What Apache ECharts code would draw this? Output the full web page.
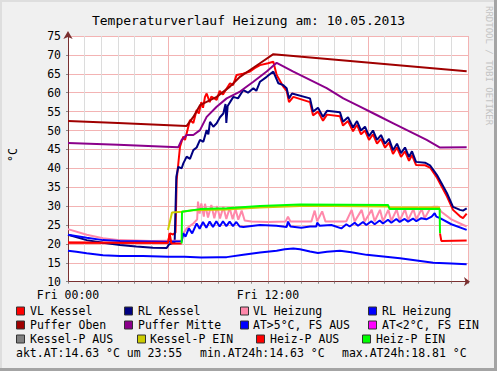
<!DOCTYPE html>
<html><head><meta charset="utf-8">
<script src="https://cdn.jsdelivr.net/npm/echarts@6/dist/echarts.min.js"></script>
<style>html,body{margin:0;padding:0;background:#f0f0f0}#c{width:497px;height:371px}</style>
</head><body><div id="c"></div>
<script>
// ---------- data ----------
const chartTitle = 'Temperaturverlauf Heizung am: 10.05.2013';
const yUnit = '°C';
const xTickLabels = {0: 'Fri 00:00', 12: 'Fri 12:00'};
const statsTexts = ['akt.AT:14.63 °C um 23:55', 'min.AT24h:14.63 °C', 'max.AT24h:18.81 °C'];

const vlKessel = [[0,20.4],[3,20.3],[6.0,20.3],[6.12,22.8],[6.3,22.5],[6.45,23.0],[6.52,36.9],[6.72,45.7],[6.92,48.4],[7.02,47.5],[7.32,52.8],[7.52,52.0],[7.72,55.4],[7.85,54.5],[8.0,57.5],[8.1,56.0],[8.22,58.9],[8.32,59.8],[8.5,57.5],[8.6,59.0],[8.92,58.1],[9.1,60.5],[9.3,59.5],[9.5,61.0],[9.72,62.5],[9.9,62.0],[10.12,64.7],[10.5,65.0],[10.92,65.6],[11.2,66.5],[11.52,67.3],[12.0,67.8],[12.32,68.2],[12.52,64.7],[12.92,61.6],[13.12,60.5],[13.26,57.5],[13.52,58.9],[14.52,57.5],[14.7,54.0],[15.0,55.0],[15.3,52.6],[15.54,54.2],[16.32,53.8],[16.5,51.3],[16.8,52.5],[17.1,49.8],[17.34,51.5],[17.58,49.0],[17.82,50.0],[18.06,47.5],[18.3,49.0],[18.54,46.5],[18.78,47.8],[19.02,45.5],[19.26,46.8],[19.5,43.8],[19.74,45.5],[19.98,43.0],[20.22,44.5],[20.46,42.0],[20.64,43.5],[20.88,40.9],[21.42,40.8],[21.72,40.2],[22.14,37.5],[22.74,32.5],[23.1,29.0],[23.52,27.3],[23.7,26.8],[23.92,28.0]];

const rlKessel = [[0,22.4],[1.12,21.0],[2.1,20.3],[3.12,19.7],[4.1,19.3],[5.1,19.0],[5.92,18.9],[6.05,19.8],[6.4,20.5],[6.5,37.8],[6.62,40.4],[6.82,40.0],[6.92,41.3],[7.12,43.1],[7.32,42.5],[7.52,44.8],[7.72,45.5],[7.92,47.5],[8.12,47.0],[8.32,50.1],[8.42,49.0],[8.52,52.3],[8.72,51.0],[8.92,51.9],[9.12,53.5],[9.32,54.5],[9.45,57.0],[9.5,52.0],[9.58,56.5],[9.92,58.9],[10.2,58.5],[10.52,60.7],[10.8,60.0],[11.12,61.2],[11.3,60.5],[11.52,62.9],[11.92,64.2],[12.32,65.6],[12.62,62.5],[12.92,62.0],[13.12,61.2],[13.26,58.5],[13.44,59.8],[14.52,58.5],[14.7,55.0],[15.0,56.0],[15.3,53.6],[15.54,55.2],[16.32,54.8],[16.5,52.3],[16.8,53.5],[17.1,50.8],[17.34,52.5],[17.58,50.0],[17.82,51.0],[18.06,48.5],[18.3,50.0],[18.54,47.5],[18.78,48.8],[19.02,46.5],[19.26,47.8],[19.5,44.8],[19.74,46.5],[19.98,44.0],[20.22,45.5],[20.46,43.0],[20.64,44.5],[20.88,41.7],[21.42,41.5],[21.72,40.8],[22.14,38.2],[22.74,33.4],[23.1,29.8],[23.52,29.0],[23.7,28.8],[23.92,29.4]];

const vlHeizung = [[0,23.9],[1.12,22.4],[2.1,21.5],[3.12,21.0],[5.0,20.8],[6.82,20.9],[6.92,22.8],[7.12,24.1],[7.52,25.4],[7.75,26.5],[7.8,31.2],[7.9,28.0],[8.0,30.7],[8.15,27.2],[8.22,30.6],[8.4,27.0],[8.6,30.3],[8.78,26.8],[8.95,30.0],[9.12,26.7],[9.32,29.8],[9.5,26.6],[9.7,29.5],[9.88,26.5],[10.05,29.2],[10.22,26.4],[10.42,28.8],[10.6,26.2],[11.0,25.9],[12.0,25.8],[13.05,25.9],[13.2,27.2],[13.35,25.9],[14.6,25.9],[14.8,28.8],[14.95,26.0],[15.25,28.6],[15.45,25.9],[16.5,25.9],[16.7,26.0],[17.02,29.0],[17.2,25.9],[17.62,29.0],[17.8,25.9],[18.22,29.0],[18.4,26.0],[18.72,29.0],[18.9,26.0],[19.22,29.0],[19.4,26.1],[19.72,29.1],[19.9,26.2],[20.22,29.1],[20.4,26.3],[20.72,29.2],[20.9,26.5],[21.22,29.2],[21.4,26.8],[21.72,29.3],[21.9,29.8],[22.2,29.8],[22.4,28.5],[23.0,26.5],[23.92,24.6]];

const rlHeizung = [[0,22.4],[1.12,21.6],[2.1,21.0],[3.12,20.8],[5.92,20.6],[6.82,20.7],[6.92,22.8],[7.05,21.9],[7.25,24.1],[7.45,22.8],[7.72,25.4],[7.9,24.0],[8.1,25.8],[8.3,24.3],[8.5,25.9],[8.7,24.5],[8.9,26.0],[9.1,24.6],[9.3,26.0],[9.5,24.7],[9.7,25.9],[9.9,24.7],[10.1,25.8],[10.3,24.6],[10.52,24.5],[11.52,25.0],[12.5,24.8],[13.12,24.5],[13.2,25.9],[13.35,24.6],[14.0,24.3],[14.52,24.6],[14.9,24.6],[14.95,25.6],[15.1,24.8],[15.8,25.0],[16.4,24.1],[16.7,25.2],[16.9,24.6],[17.2,25.6],[17.4,24.8],[17.7,25.8],[17.9,25.0],[18.2,26.0],[18.4,25.2],[18.7,26.2],[18.9,25.4],[19.2,26.4],[19.4,25.6],[19.7,26.6],[19.9,25.8],[20.2,26.6],[20.4,25.9],[20.7,26.7],[20.9,26.0],[21.2,26.8],[21.5,26.5],[21.82,27.2],[22.0,28.1],[22.1,27.2],[22.32,26.8],[23.0,25.2],[23.92,23.7]];

const pufferOben = [[0,52.5],[3,52.0],[7.12,51.2],[7.52,53.6],[7.92,56.7],[8.92,58.9],[9.72,61.6],[10.32,64.2],[10.92,66.0],[11.52,67.8],[12.32,70.2],[23.92,65.7]];

const pufferMitte = [[0,46.7],[3,46.2],[6.62,45.6],[6.82,47.5],[7.12,48.8],[7.52,48.8],[7.92,50.1],[8.32,53.6],[8.92,56.3],[9.52,58.5],[10.32,60.3],[11.12,62.9],[11.92,65.6],[12.52,67.9],[13.52,65.6],[14.52,63.4],[15.52,61.2],[16.52,58.5],[17.52,56.3],[18.52,54.1],[19.52,51.9],[20.52,49.7],[21.52,47.5],[22.32,45.5],[23.92,45.6]];

const aussenTemp = [[0,18.2],[0.5,17.9],[1.12,17.5],[2.1,17.0],[3.12,16.8],[4.5,16.8],[6.0,16.6],[7.0,16.6],[8.0,16.4],[9.0,16.5],[9.52,16.5],[10.52,17.1],[11.52,17.7],[12.52,18.2],[13.0,18.6],[13.52,18.81],[13.92,18.6],[14.52,18.0],[15.0,17.6],[15.54,17.9],[16.32,18.2],[17.0,17.8],[17.92,17.1],[19.92,16.2],[21.92,15.0],[23.0,14.8],[23.92,14.63]];

const kesselPumpeEin = [[6.0,23.7],[6.24,28.3],[6.82,28.5],[7.5,28.9],[9.5,29.1],[11.5,29.6],[13.92,30.0],[16.0,30.0],[19.2,29.9],[19.3,29.6],[22.32,29.6]];

const heizPumpeAus = [[0,20.3],[6.0,20.3],[6.1,22.8],[6.2,20.1],[6.82,20.1],[14,null],[22.32,22.8],[22.4,20.8],[23.92,20.9]];

const heizPumpeEin = [[6.82,20.1],[6.84,28.5],[7.92,29.2],[9.52,29.4],[11.52,30.0],[13.92,30.4],[19.2,30.3],[19.3,29.2],[22.3,29.2],[22.32,22.8]];

const legendNames = ['VL Kessel','RL Kessel','VL Heizung','RL Heizung','Puffer Oben','Puffer Mitte','AT>5°C, FS AUS','AT<2°C, FS EIN','Kessel-P AUS','Kessel-P EIN','Heiz-P AUS','Heiz-P EIN'];
const legendColors = ['#ff0000','#000080','#ff88aa','#0000ff','#a00000','#8b008b','#0000ff','#ff00ff','#808080','#cccc00','#ff0000','#00ff00'];

// ---------- layout ----------
const FONT = '"DejaVu Sans Mono", monospace';
const legendRows = [
  {y: 311, sq: [16,124,240,368], tx: [30,138,253,382]},
  {y: 325, sq: [16,124,240,368], tx: [30,138,253,382]},
  {y: 339, sq: [16,137,256,362], tx: [30,150,270,376]}
];
const statsX = [16, 200, 342];
const statsY = 353;

const plotSeries = [
  {name: legendNames[0], data: vlKessel, color: legendColors[0]},
  {name: legendNames[1], data: rlKessel, color: legendColors[1]},
  {name: legendNames[2], data: vlHeizung, color: legendColors[2]},
  {name: legendNames[3], data: rlHeizung, color: legendColors[3]},
  {name: legendNames[4], data: pufferOben, color: legendColors[4]},
  {name: legendNames[5], data: pufferMitte, color: legendColors[5]},
  {name: legendNames[6], data: aussenTemp, color: legendColors[6]},
  {name: legendNames[9], data: kesselPumpeEin, color: legendColors[9]},
  {name: legendNames[10], data: heizPumpeAus, color: legendColors[10]},
  {name: legendNames[11], data: heizPumpeEin, color: legendColors[11]}
];

const graphics = [
  {type:'rect', shape:{x:0,y:0,width:497,height:2}, style:{fill:'#dedede'}, silent:true},
  {type:'rect', shape:{x:0,y:0,width:2,height:371}, style:{fill:'#dedede'}, silent:true},
  {type:'rect', shape:{x:494,y:0,width:3,height:371}, style:{fill:'#a4a4a4'}, silent:true},
  {type:'rect', shape:{x:0,y:368,width:497,height:3}, style:{fill:'#a4a4a4'}, silent:true},
  {type:'text', x:489, y:6, rotation:-Math.PI/2, style:{text:'RRDTOOL / TOBI OETIKER', fill:'#c4c4c4', font:'9px '+FONT, align:'left', verticalAlign:'middle'}},
  {type:'text', x:13, y:155, rotation:Math.PI/2, style:{text:yUnit, fill:'#000', font:'11.5px '+FONT, align:'center', verticalAlign:'middle'}}
];
let li = 0;
legendRows.forEach(row => {
  for (let c = 0; c < 4; c++) {
    const idx = li++;
    graphics.push({type:'rect', shape:{x:row.sq[c]+0.5, y:row.y-4, width:8, height:8}, style:{fill:legendColors[idx], stroke:'#333', lineWidth:1}});
    graphics.push({type:'text', x:row.tx[c], y:row.y, style:{text:legendNames[idx], fill:'#000', font:'11.5px '+FONT, align:'left', verticalAlign:'middle'}});
  }
});
statsTexts.forEach((t, i) => {
  graphics.push({type:'text', x:statsX[i], y:statsY, style:{text:t, fill:'#000', font:'11.5px '+FONT, align:'left', verticalAlign:'middle'}});
});

const chart = echarts.init(document.getElementById('c'), null, {renderer:'svg', width:497, height:371});
chart.setOption({
  animation: false,
  backgroundColor: '#f0f0f0',
  title: {text: chartTitle, left: 'center', top: 9, textStyle: {fontFamily: FONT, fontSize: 13, fontWeight: 'normal', color: '#000'}},
  grid: {left: 68, right: 29, top: 36, bottom: 89.3, show: true, backgroundColor: '#ffffff', borderWidth: 0},
  xAxis: {
    type: 'value', min: 0, max: 24, interval: 1,
    axisLine: {show: true, lineStyle: {color: '#7a3030', width: 1}, symbol: ['none','arrow'], symbolSize: [7,6], symbolOffset: [0,2]},
    axisTick: {show: true, length: 2, lineStyle: {color: '#888'}},
    axisLabel: {margin: 7, fontFamily: FONT, fontSize: 11.5, color: '#000', formatter: v => xTickLabels[v] || ''},
    splitLine: {show: true, lineStyle: {color: ['#f3b3b3','#dcdcdc','#dcdcdc','#dcdcdc','#dcdcdc','#dcdcdc'], width: 1}}
  },
  yAxis: {
    type: 'value', min: 10, max: 75, interval: 5,
    axisLine: {show: true, lineStyle: {color: '#7a3030', width: 1}, symbol: ['none','arrow'], symbolSize: [7,8], symbolOffset: [0,5]},
    axisTick: {show: true, length: 2, lineStyle: {color: '#888'}},
    axisLabel: {margin: 7, fontFamily: FONT, fontSize: 11.5, color: '#000'},
    splitLine: {show: true, lineStyle: {color: '#f3b3b3', width: 1}}
  },
  series: plotSeries.map(s => ({
    name: s.name, type: 'line', data: s.data, showSymbol: false, symbol: 'none',
    lineStyle: {color: s.color, width: 2}, itemStyle: {color: s.color}, connectNulls: false, silent: true
  })),
  graphic: graphics
});
</script></body></html>
